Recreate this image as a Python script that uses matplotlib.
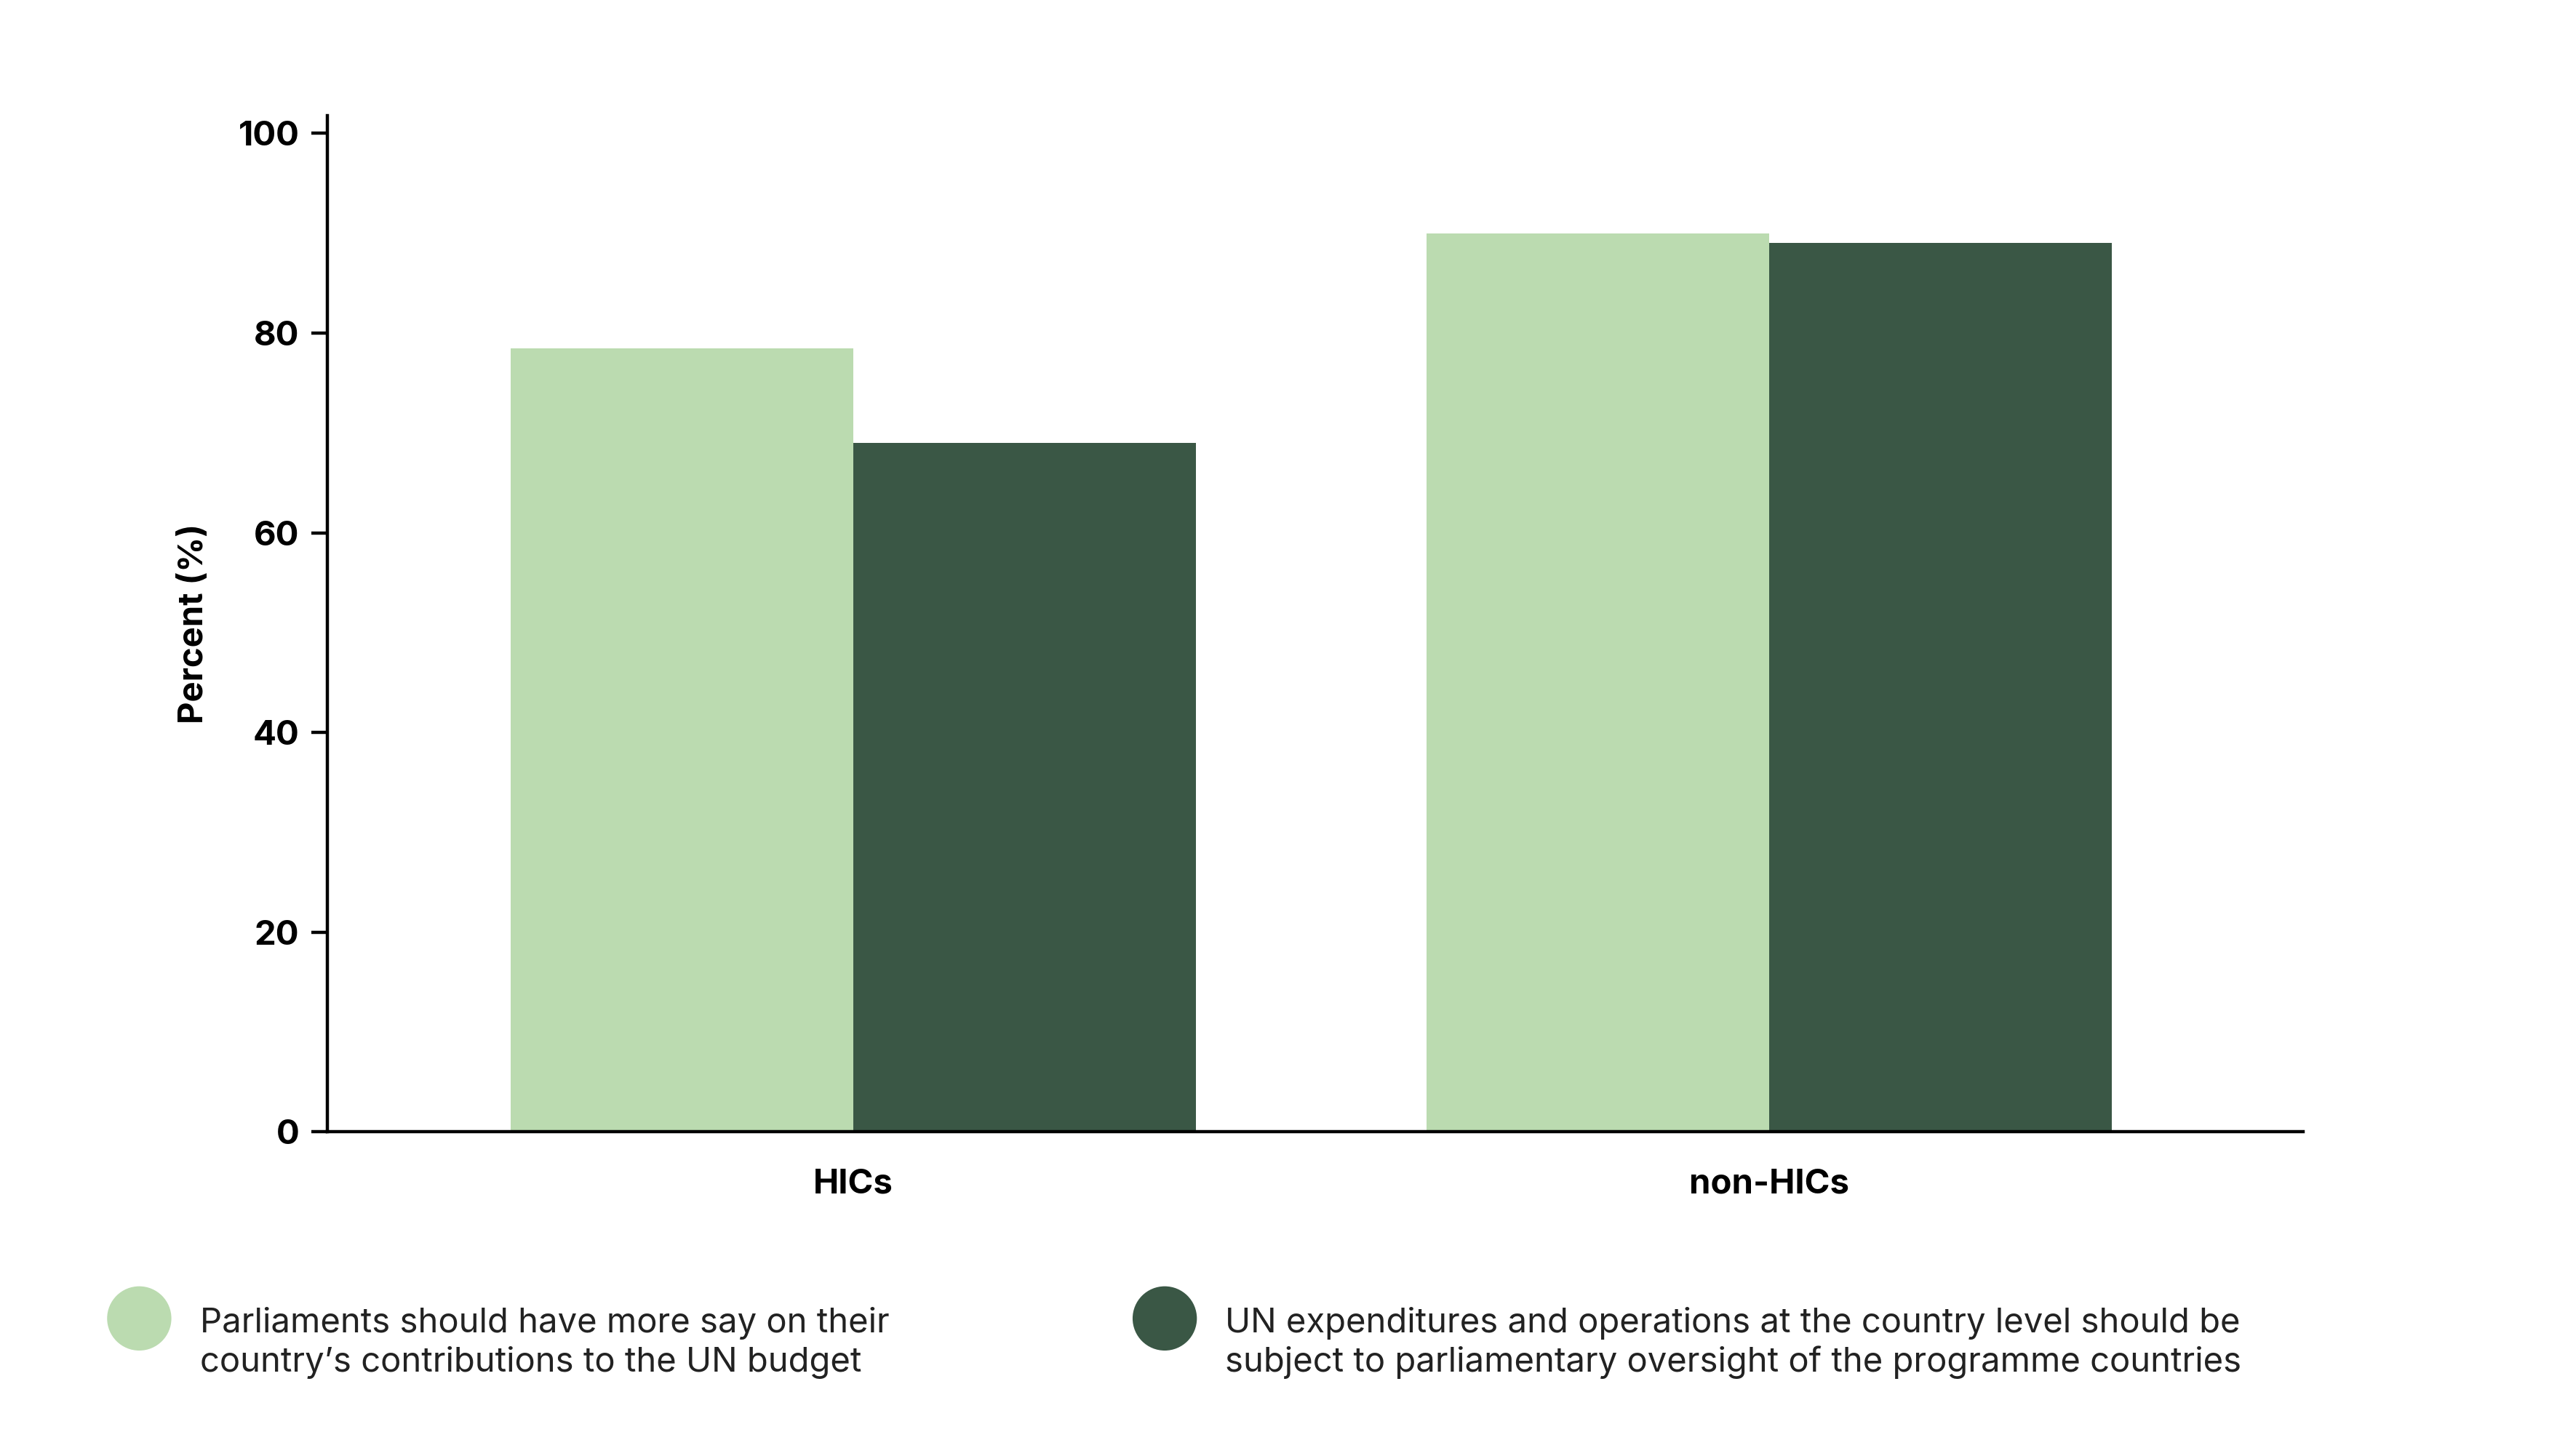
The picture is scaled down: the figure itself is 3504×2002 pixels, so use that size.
import matplotlib
matplotlib.use("Agg")
import matplotlib.pyplot as plt

plt.rcParams['font.family'] = ['Inter', 'DejaVu Sans']

groups = ['HICs', 'non-HICs']
say_budget = [78.5, 90.0]
oversight = [69.0, 89.0]
labels = ['Parliaments should have more say on their\ncountry\u2019s contributions to the UN budget',
          'UN expenditures and operations at the country level should be\nsubject to parliamentary oversight of the programme countries']
light = '#bbdbb0'
dark = '#3a5745'

fig = plt.figure(figsize=(17.52, 10.01), dpi=200)
ax = fig.add_axes([0.1285, 0.2227, 0.775, 0.698])
x = range(len(groups))
w = 0.374
ax.bar([i - w / 2 for i in x], say_budget, w, color=light)
ax.bar([i + w / 2 for i in x], oversight, w, color=dark)
ax.set_xlim(-0.574, 1.583)
ax.set_ylim(0, 101.8)
ax.set_yticks([0, 20, 40, 60, 80, 100])
ax.set_xticks(list(x))
ax.set_xticklabels(groups)
for s in ['top', 'right']:
    ax.spines[s].set_visible(False)
for s in ['left', 'bottom']:
    ax.spines[s].set_linewidth(1.6)
ax.tick_params(axis='y', labelsize=17, length=8, width=1.6, pad=6)
ax.tick_params(axis='x', labelsize=17, length=0, pad=18)
for t in ax.get_xticklabels() + ax.get_yticklabels():
    t.set_fontweight('bold')
ax.set_ylabel('Percent (%)', fontsize=17, fontweight='bold', labelpad=14)

# legend
for cx, col, lab in [(85, light, labels[0]), (711, dark, labels[1])]:
    fx = cx / 1556
    fig.patches.append(matplotlib.patches.Ellipse((fx, 1 - 805 / 889), 38 / 1556, 38 / 889,
                                                   transform=fig.transFigure, color=col))
    fig.text(fx + 37 / 1556, 1 - 820 / 889, lab, fontsize=17, va='center', ha='left',
             color='#222222', linespacing=1.25)

fig.savefig('out.png', dpi=200)
